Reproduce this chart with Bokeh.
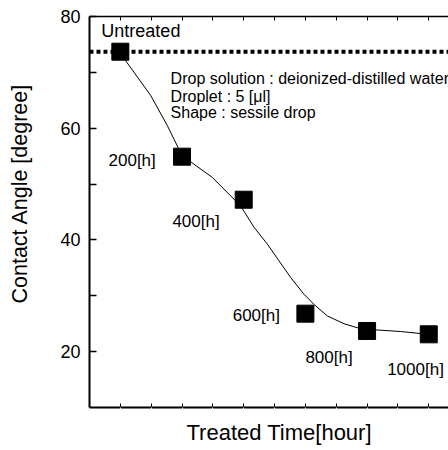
from bokeh.plotting import figure
from bokeh.models import Range1d, LinearAxis, Span, Title, FixedTicker, ColumnDataSource
from bokeh.core.properties import value
from bokeh.embed import file_html
from bokeh.resources import INLINE

# ---- data ----
hours = [0, 200, 400, 600, 800, 1000]
angle = [73.7, 54.9, 47.2, 26.8, 23.7, 23.1]
point_labels = ["Untreated", "200[h]", "400[h]", "600[h]", "800[h]", "1000[h]"]

# fitted curve
curve_hours = [0, 17, 98, 152, 200, 298, 390, 433, 476, 514, 552, 595, 627, 671, 725, 779, 827, 909, 1000]
curve_angle = [73.6, 72.1, 65.9, 60.5, 55.1, 51.2, 46.1, 42.3, 39.3, 36.3, 33.3, 30.3, 28.5, 26.4, 25.0, 24.1, 23.9, 23.6, 23.1]

info_lines = ["Drop solution : deionized-distilled water", "Droplet : 5 [\u03bcl]", "Shape : sessile drop"]
y_ticks = [20, 40, 60, 80]
y_minor = [30, 50, 70]
x_ticks = [0, 100, 200, 300, 400, 500, 600, 700, 800, 900, 1000]

FONT = "Liberation Sans"

p = figure(width=448, height=450, output_backend="svg", toolbar_location=None,
           x_range=Range1d(-100, 1064), y_range=Range1d(10, 80),
           x_axis_location=None, y_axis_location=None,
           min_border_left=89, min_border_right=0, min_border_top=16, min_border_bottom=43)
p.grid.visible = False
p.outline_line_color = None
p.background_fill_color = "white"
p.border_fill_color = "white"

# left axis
ya = LinearAxis(ticker=FixedTicker(ticks=y_ticks, minor_ticks=y_minor))
ya.axis_line_width = 2
ya.major_tick_in = 7
ya.major_tick_out = 0
ya.minor_tick_in = 7
ya.minor_tick_out = 0
ya.major_tick_line_width = 1.5
ya.minor_tick_line_width = 1.5
ya.major_label_standoff = 9
ya.major_label_text_font = FONT
ya.major_label_text_font_size = "18px"
ya.major_label_text_color = "black"
p.add_layout(ya, "left")


def tick_only_axis(width):
    a = LinearAxis(ticker=FixedTicker(ticks=x_ticks))
    a.axis_line_width = width
    a.major_tick_in = 4
    a.major_tick_out = 0
    a.minor_tick_in = 0
    a.minor_tick_out = 0
    a.major_label_text_color = None
    a.major_label_text_font_size = "1px"
    a.major_label_standoff = 0
    return a


def spacer_axis(ticks, gap):
    # invisible (white) outward ticks only to reserve room between axis and title
    a = LinearAxis(ticker=FixedTicker(ticks=ticks))
    a.axis_line_color = None
    a.major_tick_line_color = "white"
    a.major_tick_in = 0
    a.major_tick_out = gap
    a.minor_tick_in = 0
    a.minor_tick_out = 0
    a.major_label_text_color = None
    a.major_label_text_font_size = "1px"
    a.major_label_standoff = 0
    return a


p.add_layout(tick_only_axis(2), "below")
p.add_layout(tick_only_axis(1.5), "above")
p.add_layout(spacer_axis(x_ticks, 5), "below")
p.add_layout(spacer_axis(y_ticks, 21), "left")

# axis titles
p.add_layout(Title(text="Treated Time[hour]", align="left", offset=97,
                   text_font=FONT, text_font_size="22px", text_font_style="normal",
                   text_color="black"), "below")
p.add_layout(Title(text="Contact Angle [degree]", align="left", offset=104,
                   text_font=FONT, text_font_size="21.5px", text_font_style="normal",
                   text_color="black"), "left")

# untreated level
p.add_layout(Span(location=angle[0], dimension="width", line_color="black",
                  line_width=4, line_dash="4 3"))

# curve and points
p.line(curve_hours, curve_angle, line_color="black", line_width=1)
p.scatter(hours, angle, marker="square", size=17, fill_color="black", line_color="black")

# point labels placed by pixel offsets from their points
src = ColumnDataSource(dict(x=hours, y=angle, t=point_labels,
                            dx=[-19, -73.5, -71.3, -72.7, -61.7, -41.6],
                            dy=[-21, 4, 21.6, 1.9, 26.8, 35.3],
                            fs=["18px", "17px", "17px", "17px", "17px", "17px"]))
p.text(x="x", y="y", text="t", x_offset="dx", y_offset="dy", source=src,
       text_font=value(FONT), text_font_size="fs", text_color="black",
       text_align="left", text_baseline="alphabetic")

# info text
p.text(x=[163, 163, 163], y=[68.9, 65.75, 62.8], text=info_lines,
       text_font=value(FONT), text_font_size="16px", text_color="black",
       text_align="left", text_baseline="alphabetic")

open("out.html", "w").write(file_html(p, INLINE))
